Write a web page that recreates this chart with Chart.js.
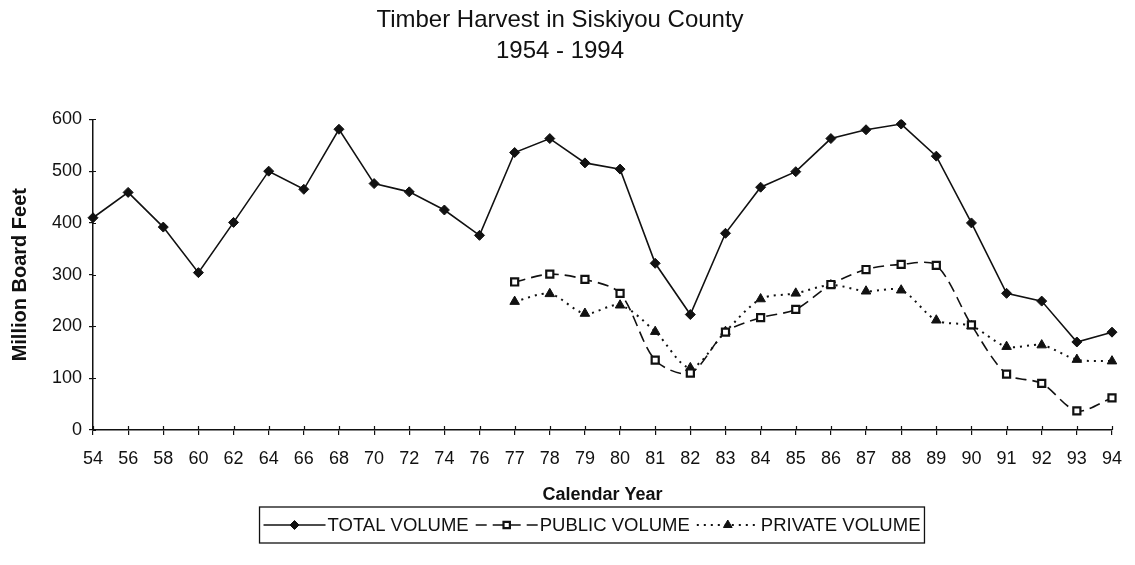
<!DOCTYPE html>
<html>
<head>
<meta charset="utf-8">
<script src="https://cdn.jsdelivr.net/npm/chart.js@4.4.1/dist/chart.umd.min.js"></script>
<style>
  html, body { margin: 0; padding: 0; background: #fff; }
  #wrap { width: 1135px; height: 565px; }
</style>
</head>
<body>
<div id="wrap"><canvas id="chart" width="1135" height="565"></canvas></div>
<script>
// ---------------- DONNEES ----------------
const years = ['54','56','58','60','62','64','66','68','70','72','74','76',
  '77','78','79','80','81','82','83','84','85','86','87','88','89','90','91','92','93','94'];

const totalVolume = [410, 459, 392, 304, 401, 500, 465, 581, 476, 460, 425, 376,
  536, 563, 516, 504, 322, 223, 380, 469, 499, 563, 580, 591, 529, 400, 264, 249, 170, 189];

const publicVolume = [null, null, null, null, null, null, null, null, null, null, null, null,
  286, 301, 291, 264, 135, 110, 189, 217, 233, 281, 310, 320, 318, 203, 108, 90, 37, 62];

const privateVolume = [null, null, null, null, null, null, null, null, null, null, null, null,
  248, 263, 225, 241, 190, 120, 190, 253, 264, 280, 268, 270, 212, 201, 161, 164, 136, 133];

const yTicks = [0, 100, 200, 300, 400, 500, 600];

const titleLines = ['Timber Harvest in Siskiyou County', '1954 - 1994'];
const xTitle = 'Calendar Year';
const yTitle = 'Million Board Feet';

const FONT = "Arial, 'Liberation Sans', sans-serif";

// ---------------- PLUGINS ----------------

// petites graduations qui traversent les axes
const crossTicks = {
    id: 'crossTicks',
    afterDraw(chart) {
        const ctx = chart.ctx;
        const x = chart.scales.x, y = chart.scales.y;
        ctx.save();
        ctx.strokeStyle = '#111';
        ctx.lineWidth = 1.2;
        ctx.beginPath();
        x.ticks.forEach((t, i) => {
            const px = Math.round(x.getPixelForTick(i)) + 0.5;
            ctx.moveTo(px, x.top - 4);
            ctx.lineTo(px, x.top);
        });
        y.ticks.forEach((t, i) => {
            const py = Math.round(y.getPixelForTick(i)) + 0.5;
            ctx.moveTo(y.right, py);
            ctx.lineTo(y.right + 3, py);
        });
        ctx.stroke();
        ctx.restore();
    }
};

// légende encadrée avec échantillon trait + marqueur
const boxLegend = {
    id: 'boxLegend',
    afterDraw(chart, args, opts) {
        const ctx = chart.ctx;
        ctx.save();
        ctx.font = opts.fontSize + 'px ' + FONT;
        ctx.textBaseline = 'middle';
        const items = chart.data.datasets.map(ds => ({ ds, w: ctx.measureText(ds.label).width }));
        let content = 0;
        items.forEach((it, i) => {
            content += opts.sample + opts.gap + it.w + (i < items.length - 1 ? opts.itemGap : 0);
        });
        const left = opts.centerX - content / 2;
        ctx.strokeStyle = '#111';
        ctx.lineWidth = 1.3;
        ctx.strokeRect(left - opts.pad, opts.top, content + 2 * opts.pad, opts.height);
        const cy = opts.top + opts.height / 2;
        let x = left;
        items.forEach(it => {
            const ds = it.ds;
            ctx.save();
            ctx.strokeStyle = ds.borderColor;
            ctx.lineWidth = ds.borderWidth;
            ctx.setLineDash(ds.borderDash || []);
            ctx.beginPath();
            ctx.moveTo(x, cy);
            ctx.lineTo(x + opts.sample, cy);
            ctx.stroke();
            ctx.setLineDash([]);
            ctx.fillStyle = ds.pointBackgroundColor;
            ctx.strokeStyle = ds.pointBorderColor;
            ctx.lineWidth = ds.pointBorderWidth;
            Chart.helpers.drawPoint(ctx, {
                pointStyle: ds.pointStyle, radius: ds.pointRadius - 0.5, rotation: 0, borderWidth: ds.pointBorderWidth
            }, x + opts.sample / 2, cy);
            ctx.restore();
            x += opts.sample + opts.gap;
            ctx.fillStyle = '#111';
            ctx.fillText(ds.label, x, cy + 1);
            x += it.w + opts.itemGap;
        });
        ctx.restore();
    }
};

// ---------------- GRAPHIQUE ----------------
const ctx = document.getElementById('chart');

new Chart(ctx, {
    type: 'line',
    data: {
        labels: years,
        datasets: [{
            label: 'TOTAL VOLUME',
            data: totalVolume,
            borderColor: '#111',
            borderWidth: 1.6,
            tension: 0,
            pointStyle: 'rectRot',
            pointRadius: 5,
            pointBackgroundColor: '#111',
            pointBorderColor: '#111',
            pointBorderWidth: 1
        }, {
            label: 'PUBLIC VOLUME',
            data: publicVolume,
            borderColor: '#111',
            borderWidth: 1.6,
            borderDash: [11, 6],
            tension: 0.3,
            pointStyle: 'rect',
            pointRadius: 5,
            pointBackgroundColor: '#fff',
            pointBorderColor: '#111',
            pointBorderWidth: 2.2
        }, {
            label: 'PRIVATE VOLUME',
            data: privateVolume,
            borderColor: '#111',
            borderWidth: 2,
            borderDash: [2, 5],
            tension: 0.3,
            pointStyle: 'triangle',
            pointRadius: 5.5,
            pointBackgroundColor: '#111',
            pointBorderColor: '#111',
            pointBorderWidth: 1
        }]
    },
    options: {
        responsive: false,
        animation: false,
        devicePixelRatio: 1,
        layout: { padding: { top: 0, left: 0, right: 15, bottom: 55 } },
        plugins: {
            legend: { display: false },
            tooltip: { enabled: false },
            title: {
                display: true,
                text: titleLines,
                color: '#111',
                font: { family: FONT, size: 24, weight: 'normal', lineHeight: 1.3 },
                padding: { top: 5, bottom: 52 }
            },
            boxLegend: { centerX: 592, top: 507, height: 36, fontSize: 18.5, sample: 62, gap: 2, itemGap: 7, pad: 4 }
        },
        scales: {
            x: {
                type: 'category',
                offset: false,
                grid: { drawOnChartArea: false, drawTicks: true, tickLength: 5, color: '#111', lineWidth: 1.2 },
                border: { color: '#111', width: 1.5 },
                ticks: {
                    color: '#111',
                    font: { family: FONT, size: 18 },
                    padding: 13,
                    autoSkip: false,
                    maxRotation: 0
                },
                title: {
                    display: true,
                    text: xTitle,
                    color: '#111',
                    font: { family: FONT, size: 18, weight: 'bold' },
                    padding: { top: 0, bottom: 4 }
                },
                afterFit(scale) { scale.height = 80; }
            },
            y: {
                min: 0,
                max: 600,
                afterBuildTicks(scale) { scale.ticks = yTicks.map(v => ({ value: v })); },
                grid: { drawOnChartArea: false, drawTicks: true, tickLength: 4, color: '#111', lineWidth: 1.2 },
                border: { color: '#111', width: 1.5 },
                ticks: {
                    color: '#111',
                    font: { family: FONT, size: 18 },
                    padding: 7
                },
                title: {
                    display: true,
                    text: yTitle,
                    color: '#111',
                    font: { family: FONT, size: 20, weight: 'bold' },
                    padding: { top: 8, bottom: 0 }
                },
                afterFit(scale) { scale.width = 93; }
            }
        }
    },
    plugins: [crossTicks, boxLegend]
});
</script>
</body>
</html>
